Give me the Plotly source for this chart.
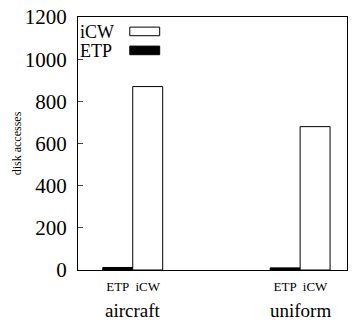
import plotly.graph_objects as go

groups = ["aircraft", "uniform"]
series = ["ETP", "iCW"]
etp_vals = [12, 10]
icw_vals = [870, 680]
y_ticks = [0, 200, 400, 600, 800, 1000, 1200]

W = 0.179
gx = [0, 1]
font = "Liberation Serif"

fig = go.Figure()
fig.add_trace(go.Bar(x=[g - W / 2 for g in gx], y=etp_vals, width=W, name="ETP",
                     marker=dict(color="black", line=dict(color="black", width=1))))
fig.add_trace(go.Bar(x=[g + W / 2 for g in gx], y=icw_vals, width=W, name="iCW",
                     marker=dict(color="white", line=dict(color="black", width=1))))

tickvals = []
ticktext = []
for g in gx:
    tickvals += [g - W / 2, g + W / 2]
    ticktext += series

fig.update_layout(
    width=353, height=329,
    margin=dict(l=78, r=5, t=10, b=59),
    plot_bgcolor="white", paper_bgcolor="white",
    showlegend=False, barmode="overlay",
    font=dict(family=font, color="black"),
    xaxis=dict(range=[-0.327, 1.28], tickvals=tickvals, ticktext=ticktext,
               tickfont=dict(size=13, family=font, color="black"), showgrid=False, zeroline=False,
               showline=True, linecolor="black", linewidth=1, mirror=True, ticks="",
               ticklabelstandoff=4),
    yaxis=dict(range=[0, 1200], tickvals=y_ticks, tickfont=dict(size=21, family=font, color="black"),
               showgrid=False, zeroline=False, showline=True, linecolor="black",
               linewidth=1, mirror=True, ticks="inside", ticklen=5, ticklabelstandoff=6,
               ticklabeloverflow="allow",
               title=dict(text="disk accesses", font=dict(size=12, family=font, color="black"),
                          standoff=0)),
)

for g, name in zip(gx, groups):
    fig.add_annotation(x=g, y=-0.112, xref="x", yref="paper", text=name,
                       showarrow=False, yanchor="top", font=dict(size=19, family=font))

# custom legend (text left, swatch right)
leg = [("iCW", "white", 0.943), ("ETP", "black", 0.868)]
for name, col, yy in leg:
    fig.add_annotation(x=0.0, y=yy, xref="paper", yref="paper", text=name,
                       showarrow=False, xanchor="left", yanchor="middle",
                       font=dict(size=18, family=font), xshift=0, height=17)
    fig.add_shape(type="rect", xref="paper", yref="paper",
                  x0=52 / 270, x1=82 / 270, y0=yy - 0.017, y1=yy + 0.017,
                  fillcolor=col, line=dict(color="black", width=1))

fig.write_html("out.html")
